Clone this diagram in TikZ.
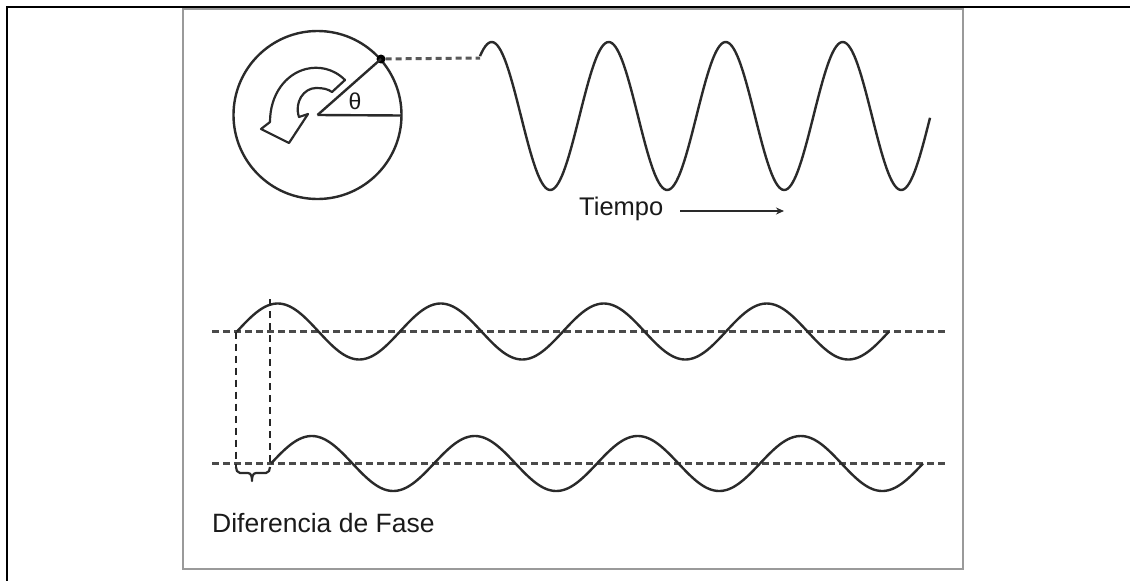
\documentclass[tikz,border=0pt]{standalone}
\usepackage{fontspec}
\setmainfont{Liberation Sans}
\usetikzlibrary{arrows.meta}
\definecolor{wavec}{HTML}{2A2A2A}
\definecolor{dashc}{HTML}{4A4A4A}
\definecolor{txtc}{HTML}{1A1A1A}
\definecolor{framec}{HTML}{9A9A9A}
\begin{document}
\begin{tikzpicture}[x=1pt,y=-1pt,
  wave/.style={line width=2.4pt, draw=wavec, line join=round},
  dsh/.style={line width=3pt, draw=dashc, dash pattern=on 7pt off 4pt},
  topdsh/.style={line width=3pt, draw=black!65, dash pattern=on 6pt off 4pt},
  vdsh/.style={line width=2.6pt, draw=black!85, dash pattern=on 7pt off 5pt},
  lbl/.style={inner sep=0pt, text=txtc, font=\fontsize{26.5}{30}\selectfont}]
\useasboundingbox (0,0) rectangle (1130,581);
\fill[white] (0,0) rectangle (1130,581);
% outer border (top and left)
\draw[line width=2.6pt] (7,581) -- (7,7) -- (1131,7);
% inner frame
\draw[line width=2.2pt, framec] (183,9) rectangle (963,569);

% rotating phasor
\coordinate (c) at (317.5,115);
\draw[line width=2.4pt, wavec] (c) circle [radius=84];
\node[circle, fill=black, inner sep=0pt, minimum size=9pt] (dot) at (381,59) {};
\coordinate (hr) at (401.5,115.5);
\draw[line width=2.4pt, wavec] (c) -- (dot.center);
\draw[line width=2.4pt, wavec] (c) -- (hr);
\node[inner sep=0pt, text=txtc, font=\fontsize{23}{24}\selectfont] (theta) at (355,101) {θ};
% curved hollow arrow
\draw[line width=2.2pt, wavec, fill=white, line join=round]
  (345,80) .. controls (333,68) and (318,66) .. (306,69)
  .. controls (286,74) and (270,94) .. (270,122)
  -- (261,129) -- (289,143) -- (308,114) -- (299,117)
  .. controls (294,102) and (304,88) .. (316,88)
  .. controls (323,88) and (328,89) .. (332,92) -- cycle;

% dashed projection and top wave
\coordinate (w0) at (480,58);
\draw[topdsh] (dot) -- (w0);
\draw[wave] plot[domain=480:930, samples=260, smooth] (\x, {116-74*cos((\x-491.7)*3.0769)});

\node[lbl, font=\fontsize{25.5}{30}\selectfont, anchor=base west] (tiempo) at (579,215) {Tiempo};
\coordinate (ta) at (680,211);
\coordinate (tb) at (784,211);
\draw[line width=2.4pt, wavec, -{Stealth[length=8pt,width=7pt]}] (ta) -- (tb);

% bottom waves
\coordinate (b1l) at (212,331.5);
\coordinate (b1r) at (948,331.5);
\coordinate (b2l) at (212,463.5);
\coordinate (b2r) at (948,463.5);
\draw[dsh] (b1l) -- (b1r);
\draw[dsh] (b2l) -- (b2r);
\draw[wave] plot[domain=237:889, samples=300, smooth] (\x, {331.5-28*sin((\x-237)*2.2086)});
\draw[wave] plot[domain=271:923, samples=300, smooth] (\x, {463.5-27.5*sin((\x-271)*2.2086)});

% phase difference markers
\coordinate (v1t) at (236,331.5);
\coordinate (v1b) at (236,467);
\coordinate (v2t) at (270,299);
\coordinate (v2b) at (270,463.5);
\draw[vdsh] (v1t) -- (v1b);
\draw[vdsh] (v2t) -- (v2b);
\draw[line width=2.2pt, wavec, line join=round]
  (v1b) to[out=-90,in=180] (240,473) -- (248,473)
  to[out=0,in=90] (252,481) to[out=90,in=180] (256,473) -- (266,473)
  to[out=0,in=-90] (270,467);

\node[lbl, anchor=base west] (dif) at (212,532) {Diferencia de Fase};
\end{tikzpicture}
\end{document}
